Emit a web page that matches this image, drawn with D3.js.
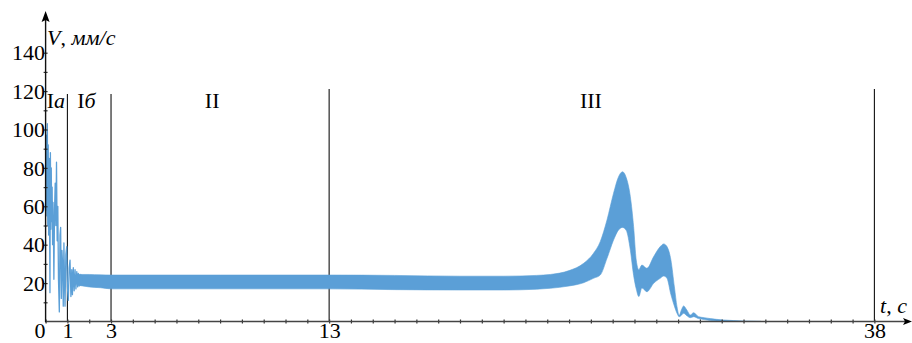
<!DOCTYPE html>
<html>
<head>
<meta charset="utf-8">
<script src="https://cdn.jsdelivr.net/npm/d3@7"></script>
<style>
  body { margin: 0; background: #fff; }
  svg text { font-family: "Liberation Serif", "DejaVu Serif", serif !important; fill: #000; }
</style>
</head>
<body>
<div id="chart"></div>
<script>
// ---- data ----
// early transient (t < 1.7 s), drawn as a line
var earlyT = [0.00,0.02,0.04,0.06,0.08,0.10,0.12,0.14,0.16,0.18,0.20,0.22,0.24,0.26,0.28,0.30,0.32,0.34,0.36,0.38,0.41,0.44,0.47,0.50,0.53,0.56,0.59,0.63,0.66,0.69,0.72,0.75,0.78,0.81,0.84,0.87,0.89,0.93,0.97,1.00,1.04,1.08,1.12,1.16,1.20,1.23,1.27,1.31,1.35,1.39,1.43,1.47,1.50,1.54,1.58,1.62,1.66,1.70];
var earlyV = [96,58,97,55,103,50,92,45,85,55,15,88,48,80,52,70,40,62,45,22,58,72,50,83,42,60,22,5,45,49,12,37,30,8,41,20,8,35,39,18,11,28,32,13,27,14,28,16,27,17,26,18,25,18.5,24.5,18.8,24.2,19];

// oscillation band: time, upper and lower envelope
var bandT  = [1.45,1.7,2.0,2.5,3,8,13,16,19,21,22.5,23.14,24.0,24.67,25.12,25.43,25.74,26.04,26.27,26.45,26.62,26.81,26.96,27.08,27.2,27.34,27.57,27.88,28.18,28.34,28.49,28.67,28.83,28.95,29.05,29.15,29.25,29.4,29.56,29.71,29.94,30.2,30.48,31.07,32.0,32.8];
var bandHi = [24.5,24.5,24.5,24.3,24.2,24.2,24.2,24,23.6,23.6,24,24.5,26.5,30.3,35.5,41.6,52.9,66.8,75.4,78,75,65,49.4,32,27,29.4,27.7,33.8,39,40.4,39,32,18,7.7,3.2,6,8.1,6,3.4,4.6,2.5,2,1.5,0.8,0.3,0.1];
var bandLo = [19,18.5,18,17.6,17,17,17,16.6,16.4,16.4,16.8,17.3,18.5,20.2,22.5,24.2,32.9,42.4,47.7,49,47.5,37.2,24,17,13,17.5,15.5,19.9,22.5,23.7,22.5,14,8,4.3,2.5,3.2,4.3,3,2,2.5,1.5,1,0.5,0.2,0,0];

var xTickLabels = [0, 1, 3, 13, 38];
var yTickLabels = [20, 40, 60, 80, 100, 120, 140];
var stageBounds = [1, 3, 13, 38];
var stageNames = [
  {t: 0.05, txt: "I", sub: "а"},
  {t: 1.45, txt: "I", sub: "б"},
  {t: 7.3,  txt: "II"},
  {t: 24.5, txt: "III"}
];

// ---- drawing ----
var width = 912, height = 343;
var x = d3.scaleLinear().domain([0, 38]).range([45.6, 874.4]);
var y = d3.scaleLinear().domain([0, 140]).range([321.5, 52.7]);
var blue = "#5b9fd7";
var fs = 22;

var svg = d3.select("#chart").append("svg")
  .attr("width", width).attr("height", height)
  .attr("font-family", "Liberation Serif");

// stage boundaries
svg.append("g").selectAll("line")
  .data(stageBounds)
  .join("line")
  .attr("x1", d => x(d)).attr("x2", d => x(d))
  .attr("y1", d => d < 5 ? 94 : 89)
  .attr("y2", y(0))
  .attr("stroke", "#111")
  .attr("stroke-width", 1.1);

// band
var band = d3.area()
  .x((d, i) => x(bandT[i]))
  .y0((d, i) => y(bandLo[i]))
  .y1((d, i) => y(bandHi[i]))
  .curve(d3.curveMonotoneX);

svg.append("path")
  .datum(bandT)
  .attr("d", band)
  .attr("fill", blue)
  .attr("stroke", blue)
  .attr("stroke-width", 0.6);

var early = d3.line()
  .x((d, i) => x(earlyT[i]))
  .y((d, i) => y(earlyV[i]));

svg.append("path")
  .datum(earlyT)
  .attr("d", early)
  .attr("fill", "none")
  .attr("stroke", blue)
  .attr("stroke-width", 1.3)
  .attr("stroke-linejoin", "round");

// x axis
var xAxis = d3.axisBottom(x)
  .tickValues(d3.range(0, 39))
  .tickSize(2)
  .tickFormat(d => xTickLabels.includes(d) ? d : "");

var gx = svg.append("g")
  .attr("transform", `translate(0,${y(0)})`)
  .call(xAxis)
  .attr("font-family", null).attr("font-size", null);
gx.select(".domain").remove();
gx.selectAll(".tick line").attr("y1", -2).attr("y2", 2).attr("stroke", "#333").attr("stroke-width", 1.2);
gx.selectAll(".tick text")
  .attr("y", 16.5).attr("dy", 0)
  .attr("font-size", fs)
  .attr("fill", "#000");
gx.selectAll(".tick").filter(d => d === 0).select("text").attr("x", -6);

svg.append("line")
  .attr("x1", x(0)).attr("x2", 906)
  .attr("y1", y(0)).attr("y2", y(0))
  .attr("stroke", "#444").attr("stroke-width", 1.4);
svg.append("path")
  .attr("d", `M912,${y(0)} L903,${y(0) - 3.5} L905,${y(0)} L903,${y(0) + 3.5} Z`)
  .attr("fill", "#000");

// y axis
var yAxis = d3.axisLeft(y)
  .tickValues(d3.range(10, 141, 10))
  .tickSize(2)
  .tickFormat(d => yTickLabels.includes(d) ? d : "");

var gy = svg.append("g")
  .attr("transform", `translate(${x(0)},0)`)
  .call(yAxis)
  .attr("font-family", null).attr("font-size", null);
gy.select(".domain").remove();
gy.selectAll(".tick line").attr("x1", -2).attr("x2", 2).attr("stroke", "#333").attr("stroke-width", 1.2);
gy.selectAll(".tick text")
  .attr("x", -0.5).attr("dy", "0.33em")
  .attr("font-size", fs)
  .attr("fill", "#000");

svg.append("line")
  .attr("x1", x(0)).attr("x2", x(0))
  .attr("y1", y(0) + 0.7).attr("y2", 20)
  .attr("stroke", "#111").attr("stroke-width", 1.4);
svg.append("path")
  .attr("d", `M${x(0)},11 L${x(0) - 4},22 L${x(0)},20 L${x(0) + 4},22 Z`)
  .attr("fill", "#000");

// axis titles
var yt = svg.append("text").attr("x", 47).attr("y", 45).attr("font-size", fs);
yt.append("tspan").attr("font-style", "italic").text("V");
yt.append("tspan").text(", ");
yt.append("tspan").attr("font-style", "italic").text("мм/с");

var xt = svg.append("text").attr("x", 880).attr("y", 313).attr("font-size", fs);
xt.append("tspan").attr("font-style", "italic").text("t");
xt.append("tspan").text(", ");
xt.append("tspan").attr("font-style", "italic").text("с");

// stage labels
var st = svg.append("g").selectAll("text")
  .data(stageNames)
  .join("text")
  .attr("x", d => x(d.t))
  .attr("y", 108)
  .attr("font-size", fs);
st.append("tspan").text(d => d.txt);
st.filter(d => d.sub).append("tspan").attr("font-style", "italic").text(d => d.sub);
</script>
</body>
</html>
